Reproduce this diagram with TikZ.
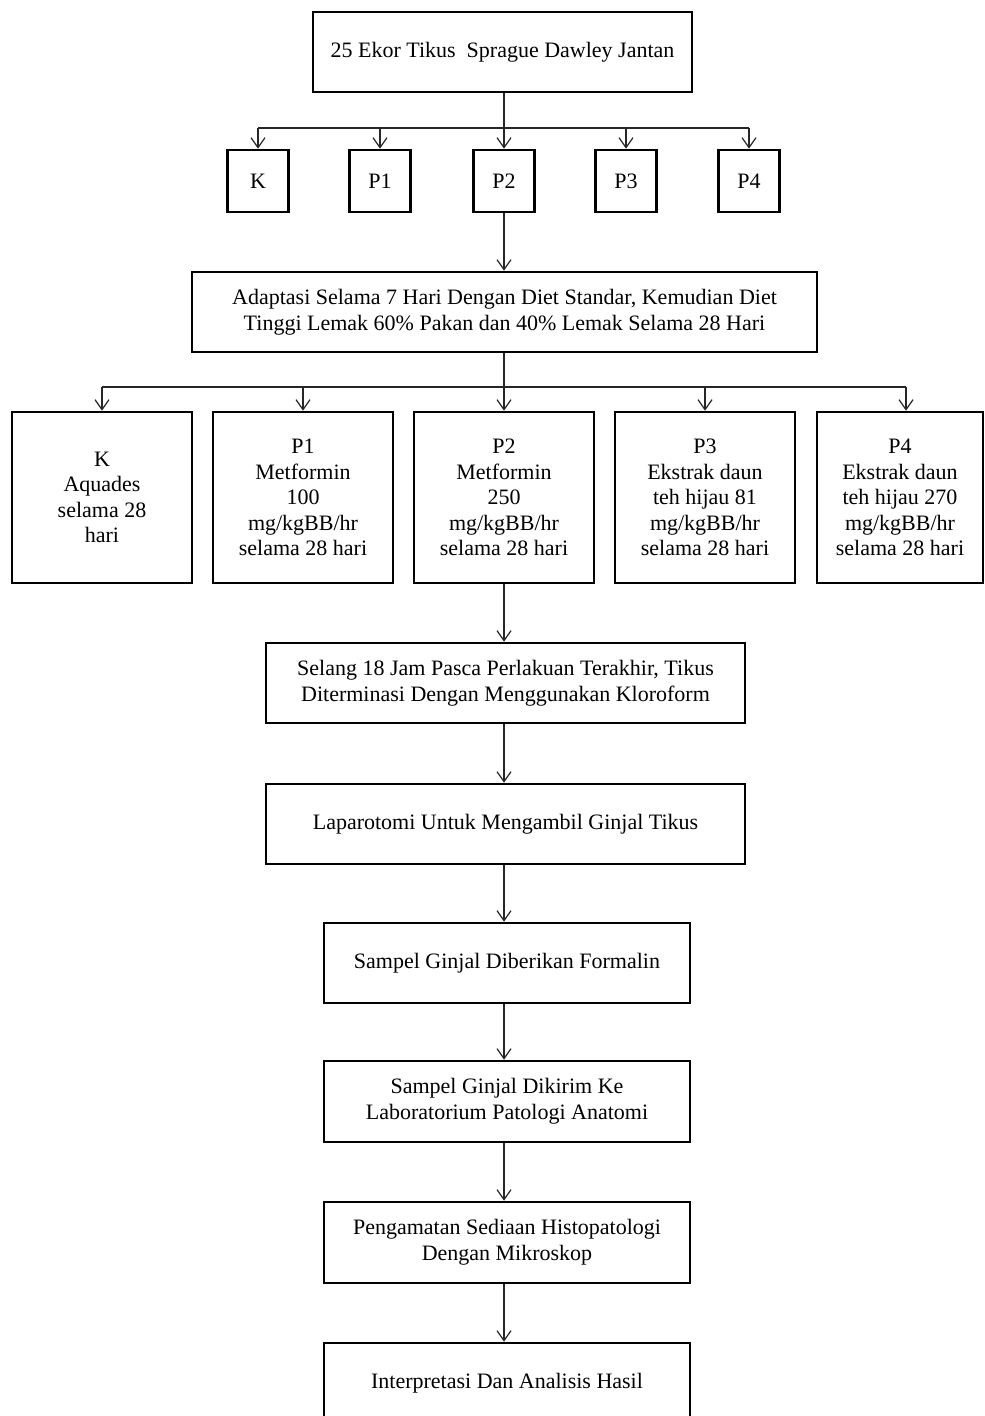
\documentclass[tikz,border=0pt]{standalone}
\usepackage{fontspec}
\setmainfont{Liberation Serif}
\usetikzlibrary{arrows.meta}
\begin{document}
\begin{tikzpicture}[x=0.5pt,y=-0.5pt,
  box/.style={draw=black, line width=1.3pt, align=center, inner sep=0pt, font=\fontsize{11}{12.8}\selectfont},
  small/.style={box, minimum width=30.5pt, minimum height=31pt},
  tall/.style={box, minimum width=90pt, minimum height=85.5pt},
  conn/.style={draw=black!85, line width=0.6pt, -{Straight Barb[length=5pt,width=7pt,line width=0.6pt]}},
  plain/.style={draw=black!85, line width=0.6pt}]
\useasboundingbox (0,0) rectangle (984,1416);
\fill[white] (0,0) rectangle (984,1416);

% top
\node[box, minimum width=189.5pt, minimum height=40pt] (top) at (502.5,52) {\raisebox{-1.5pt}{25 Ekor Tikus\ \ Sprague Dawley Jantan}};

% small group boxes
\node[small] (k1) at (258,181) {K};
\node[small] (p11) at (380,181) {P1};
\node[small] (p21) at (504,181) {P2};
\node[small] (p31) at (626,181) {P3};
\node[small] (p41) at (749,181) {P4};

% adaptation
\node[box, minimum width=312.5pt, minimum height=40pt] (adapt) at (504.5,312)
  {Adaptasi Selama 7 Hari Dengan Diet Standar, Kemudian Diet\\Tinggi\ Lemak 60\% Pakan dan 40\% Lemak Selama 28 Hari};

% treatment boxes
\node[tall] (k2) at (102,497.5) {K\\Aquades\\selama 28\\hari};
\node[tall] (p12) at (303,497.5) {P1\\Metformin\\100\\mg/kgBB/hr\\selama 28 hari};
\node[tall] (p22) at (504,497.5) {P2\\Metformin\\250\\mg/kgBB/hr\\selama 28 hari};
\node[tall] (p32) at (705,497.5) {P3\\Ekstrak daun\\teh hijau 81\\mg/kgBB/hr\\selama 28 hari};
\node[tall, minimum width=83pt] (p42) at (900,497.5) {P4\\Ekstrak daun\\teh hijau 270\\mg/kgBB/hr\\selama 28 hari};

% process boxes
\node[box, minimum width=239.5pt, minimum height=40pt] (selang) at (505.5,683)
  {Selang 18 Jam Pasca Perlakuan Terakhir, Tikus\\Diterminasi Dengan Menggunakan Kloroform};
\node[box, minimum width=239.5pt, minimum height=40pt] (lap) at (505.5,824)
  {\raisebox{-1.5pt}{Laparotomi Untuk Mengambil Ginjal Tikus}};
\node[box, minimum width=183pt, minimum height=40pt] (form) at (507,963)
  {\raisebox{-1pt}{Sampel Ginjal Diberikan Formalin}};
\node[box, minimum width=183pt, minimum height=40.5pt] (kirim) at (507,1101.5)
  {Sampel Ginjal Dikirim\ Ke\\Laboratorium Patologi Anatomi};
\node[box, minimum width=183pt, minimum height=40.5pt] (amat) at (507,1242.5)
  {Pengamatan Sediaan Histopatologi\\Dengan Mikroskop};
\node[box, minimum width=183pt, minimum height=40pt] (interp) at (507,1383)
  {Interpretasi Dan Analisis Hasil};

% junctions
\coordinate (j1) at (504,128);
\coordinate (j2) at (504,387);
\coordinate (p4top) at (906,387);

% connectors: top to groups
\draw[plain] (top.south -| j1) -- (j1);
\draw[plain] (k1.north |- j1) -- (p41.north |- j1);
\foreach \n in {k1,p11,p21,p31,p41} \draw[conn] (\n.north |- j1) -- (\n.north);

% P2 to adaptation
\draw[conn] (p21.south) -- (p21.south |- adapt.north);

% adaptation to treatments
\draw[plain] (adapt.south -| p22) -- (j2);
\draw[plain] (k2.north |- j2) -- (p4top);
\foreach \n in {k2,p12,p22,p32} \draw[conn] (\n.north |- j2) -- (\n.north);
\draw[conn] (p4top) -- (p4top |- p42.north);

% vertical chain
\draw[conn] (p22.south) -- (p22.south |- selang.north);
\draw[conn] (p22.south |- selang.south) -- (p22.south |- lap.north);
\draw[conn] (p22.south |- lap.south) -- (p22.south |- form.north);
\draw[conn] (p22.south |- form.south) -- (p22.south |- kirim.north);
\draw[conn] (p22.south |- kirim.south) -- (p22.south |- amat.north);
\draw[conn] (p22.south |- amat.south) -- (p22.south |- interp.north);
\end{tikzpicture}
\end{document}
